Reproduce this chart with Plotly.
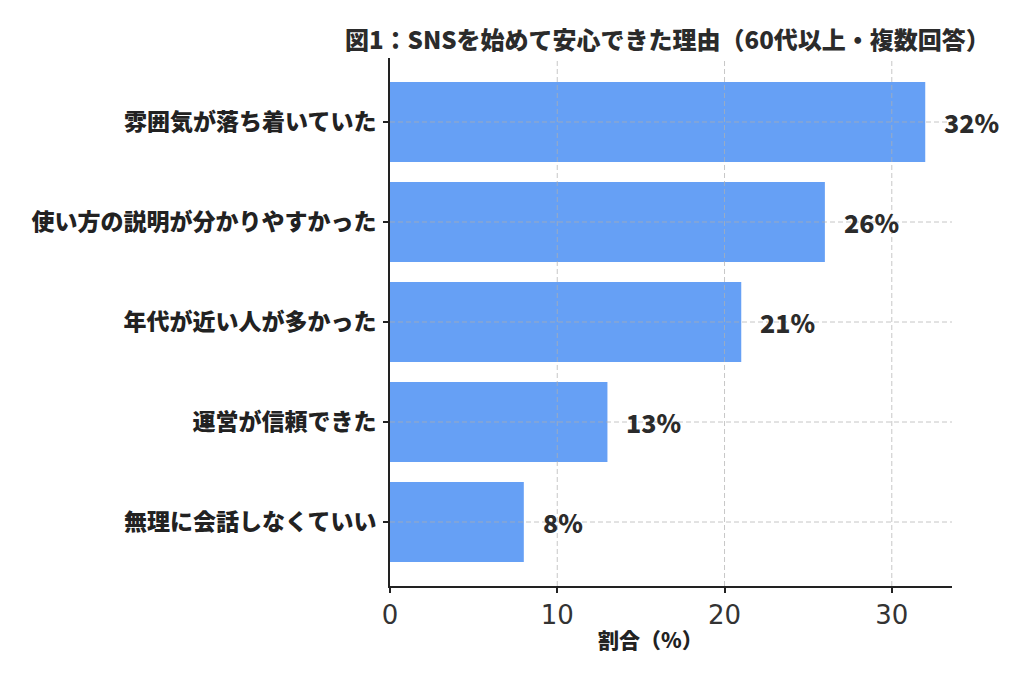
import plotly.graph_objects as go

# Data (top-to-bottom as shown in the chart)
categories = ["雰囲気が落ち着いていた", "使い方の説明が分かりやすかった", "年代が近い人が多かった", "運営が信頼できた", "無理に会話しなくていい"]
values = [32, 26, 21, 13, 8]
x_ticks = [0, 10, 20, 30]
title_text = "図1：SNSを始めて安心できた理由（60代以上・複数回答）"
x_label = "割合（%）"

# Plot bottom-to-top
cats = categories[::-1]
vals = values[::-1]

JP = "Noto Sans CJK JP"
BAR = "#66A0F5"
GRID = "rgba(175,175,175,0.7)"
XMAX = max(values) * 1.05
YMIN, YMAX = -0.64, len(cats) - 1 + 0.64

# page offset (browser body margin) and plot area in page pixels
OFF = 8
PL, PT, PR, PB = 390, 58, 952, 586
L, T = PL - OFF, PT - OFF
R, B = 1024 - (PR - OFF), 683 - (PB - OFF)
PW, PH = PR - PL, PB - PT

fig = go.Figure()
fig.add_trace(go.Bar(
    x=vals, y=cats, orientation="h", width=0.8,
    marker=dict(color=BAR, line=dict(width=0)),
    hoverinfo="skip",
))

shapes = []
for t in x_ticks[1:]:
    shapes.append(dict(type="line", xref="x", yref="paper", x0=t, x1=t, y0=0, y1=1,
                       line=dict(color=GRID, width=1, dash="5px,3px"), layer="above"))
for c in cats:
    shapes.append(dict(type="line", xref="paper", yref="y", x0=0, x1=1, y0=c, y1=c,
                       line=dict(color=GRID, width=1, dash="5px,3px"), layer="above"))

annotations = []
for c, v in zip(cats, vals):
    annotations.append(dict(x=v + 1, y=c, xref="x", yref="y", text=f"{v}%", showarrow=False,
                            xanchor="left", yanchor="middle",
                            font=dict(family=JP, size=25, color="#2b2b2b", weight=900)))
annotations.append(dict(x=(650 - PL) / PW, y=-(639 - PB) / PH, xref="paper", yref="paper",
                        text=x_label, showarrow=False, xanchor="center", yanchor="middle",
                        font=dict(family=JP, size=21, color="#222222", weight=900)))
annotations.append(dict(x=(667 - PL) / PW, y=1 + (PT - 38) / PH, xref="paper", yref="paper",
                        text=title_text, showarrow=False, xanchor="center", yanchor="middle",
                        font=dict(family=JP, size=24, color="#2b2b2b", weight=900)))

fig.update_layout(
    width=1024, height=683,
    margin=dict(l=L, r=R, t=T, b=B),
    paper_bgcolor="white", plot_bgcolor="white",
    showlegend=False,
    shapes=shapes,
    annotations=annotations,
    bargap=0.2,
)
fig.update_xaxes(
    range=[0, XMAX], tickvals=x_ticks, ticktext=[str(t) for t in x_ticks],
    showgrid=False, zeroline=False,
    showline=True, linecolor="#222222", linewidth=2,
    ticks="outside", ticklen=5, tickwidth=1.5, tickcolor="#222222",
    tickfont=dict(family="DejaVu Sans", size=26, color="#333333"),
)
fig.update_yaxes(
    range=[YMIN, YMAX], type="category", categoryorder="array", categoryarray=cats,
    showgrid=False, zeroline=False,
    showline=True, linecolor="#222222", linewidth=2,
    ticks="outside", ticklen=5, tickwidth=1.5, tickcolor="#222222",
    ticklabelstandoff=2,
    tickfont=dict(family=JP, size=23, color="#222222", weight=900),
)

fig.write_html("out.html")
